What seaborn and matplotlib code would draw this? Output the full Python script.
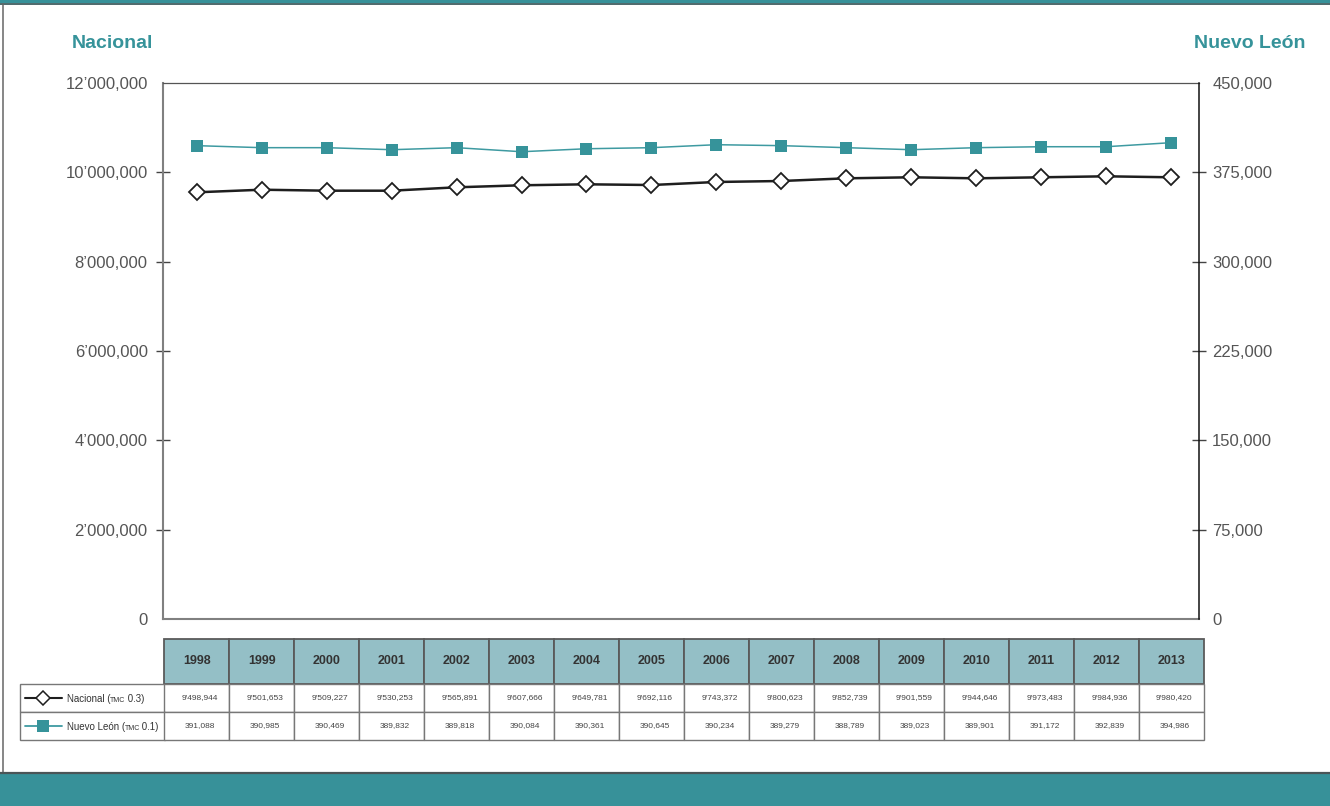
import matplotlib
matplotlib.use("Agg")
import matplotlib.pyplot as plt
import matplotlib.transforms as mtransforms
from matplotlib.patches import Rectangle
from matplotlib.lines import Line2D
from matplotlib import font_manager
import pandas as pd
import seaborn as sns

# --- data --------------------------------------------------------------------
years = [str(y) for y in range(1998, 2014)]

nacional_plot = [9553000, 9611000, 9589000, 9589000, 9665000, 9710000, 9732000, 9716000,
                 9784000, 9806000, 9866000, 9889000, 9866000, 9889000, 9911000, 9889000]
nuevo_leon_plot = [397400, 395700, 395700, 394000, 395700, 392300, 394800, 395700,
                   398200, 397400, 395700, 394000, 395700, 396500, 396500, 399900]

# values printed in the table under the chart
nacional_table = ["9'498,944", "9'501,653", "9'509,227", "9'530,253", "9'565,891", "9'607,666",
                  "9'649,781", "9'692,116", "9'743,372", "9'800,623", "9'852,739", "9'901,559",
                  "9'944,646", "9'973,483", "9'984,936", "9'980,420"]
nuevo_leon_table = ["391,088", "390,985", "390,469", "389,832", "389,818", "390,084",
                    "390,361", "390,645", "390,234", "389,279", "388,789", "389,023",
                    "389,901", "391,172", "392,839", "394,986"]

series_labels = [("Nacional (", "TMC", " 0.3)"), ("Nuevo León (", "TMC", " 0.1)")]

left_ticks = [0, 2e6, 4e6, 6e6, 8e6, 10e6, 12e6]
left_labels = ["0", "2’000,000", "4’000,000", "6’000,000", "8’000,000", "10’000,000", "12’000,000"]
right_ticks = [0, 75000, 150000, 225000, 300000, 375000, 450000]
right_labels = ["0", "75,000", "150,000", "225,000", "300,000", "375,000", "450,000"]

teal = "#36939a"
band = "#379199"
header_fill = "#94bfc6"

# --- style -------------------------------------------------------------------
sns.set_style("white")
names = {f.name for f in font_manager.fontManager.ttflist}
narrow = "Liberation Sans Narrow" if "Liberation Sans Narrow" in names else "Liberation Sans"
plt.rcParams["font.family"] = [narrow, "DejaVu Sans"]

W, H = 1330, 806
fig = plt.figure(figsize=(W / 100, H / 100), dpi=100)
px = lambda x: x / W
py = lambda y: 1 - y / H

ax = fig.add_axes([px(163), py(619), px(1199) - px(163), py(83) - py(619)])
ax2 = ax.twinx()

df_nac = pd.DataFrame({"pos": range(len(years)), "value": nacional_plot})
df_nl = pd.DataFrame({"pos": range(len(years)), "value": nuevo_leon_plot})

sns.lineplot(data=df_nac, x="pos", y="value", ax=ax, color="#1e1e1e", linewidth=1.8,
             marker="D", markersize=8.5, markerfacecolor="white",
             markeredgecolor="#1e1e1e", markeredgewidth=1.3)
sns.lineplot(data=df_nl, x="pos", y="value", ax=ax2, color="#3e9aa1", linewidth=1.1,
             marker="s", markersize=8.2, markerfacecolor=teal,
             markeredgecolor=teal, markeredgewidth=0)

ax.set_xlim(-0.52, 15.43)
ax.set_xticks([])
ax.set_xlabel("")
ax2.set_xlabel("")
ax.set_ylabel("")
ax2.set_ylabel("")

ax.set_ylim(0, 12e6)
ax.set_yticks(left_ticks)
ax.set_yticklabels(left_labels)
ax.tick_params(axis="y", direction="inout", length=10, width=1.0, color="#444",
               labelsize=12, labelcolor="#555", pad=6, left=True)
ax2.set_ylim(0, 450000)
ax2.set_yticks(right_ticks)
ax2.set_yticklabels(right_labels)
ax2.tick_params(axis="y", direction="inout", length=10, width=1.0, color="#444",
                labelsize=12, labelcolor="#555", pad=4.5, right=True)
for a in (ax, ax2):
    ticks = a.yaxis.get_major_ticks()
    for t in (ticks[0], ticks[-1]):
        t.tick1line.set_visible(False)
        t.tick2line.set_visible(False)

for side in ("left", "bottom"):
    ax.spines[side].set_color("#808080")
    ax.spines[side].set_linewidth(1.5)
ax.spines["top"].set_color("#555")
ax.spines["top"].set_linewidth(0.9)
ax.spines["right"].set_visible(False)
for side in ("left", "top", "bottom"):
    ax2.spines[side].set_visible(False)
ax2.spines["right"].set_color("#111")
ax2.spines["right"].set_linewidth(1.1)

fig.text(px(72), py(43), "Nacional", color=teal, fontsize=14, fontweight="bold",
         ha="left", va="center")
fig.text(px(1305), py(43), "Nuevo León", color=teal, fontsize=14, fontweight="bold",
         ha="right", va="center")

# --- table -------------------------------------------------------------------
blend = mtransforms.blended_transform_factory(ax.transData, fig.transFigure)
head_top, head_bot = py(639), py(684)
rows = [(py(684), py(712)), (py(712), py(740))]

for i, year in enumerate(years):
    fig.add_artist(Rectangle((i - 0.5, head_bot), 1, head_top - head_bot, transform=blend,
                             facecolor=header_fill, edgecolor="#5a5a5a", linewidth=1.3))
    fig.text(i, (head_top + head_bot) / 2, year, transform=blend, ha="center", va="center",
             fontsize=9, fontweight="bold", color="#333")

for (top, bot), values in zip(rows, [nacional_table, nuevo_leon_table]):
    fig.add_artist(Rectangle((px(20), bot), px(164.6) - px(20), top - bot,
                             transform=fig.transFigure, facecolor="white",
                             edgecolor="#777", linewidth=1.0))
    for i, v in enumerate(values):
        fig.add_artist(Rectangle((i - 0.5, bot), 1, top - bot, transform=blend,
                                 facecolor="white", edgecolor="#777", linewidth=1.0))
        fig.text(i + 0.05, (top + bot) / 2, v, transform=blend, ha="center", va="center",
                 fontsize=6, color="#444")

# legend keys inside the label cells
(n_top, n_bot), (l_top, l_bot) = rows
y_nac = (n_top + n_bot) / 2
y_nl = (l_top + l_bot) / 2
fig.add_artist(Line2D([px(25), px(62)], [y_nac, y_nac], transform=fig.transFigure,
                      color="#1e1e1e", linewidth=1.5))
fig.add_artist(Line2D([px(43)], [y_nac], transform=fig.transFigure, marker="D",
                      markersize=7.5, markerfacecolor="white", markeredgecolor="#1e1e1e",
                      markeredgewidth=1.1))
fig.add_artist(Line2D([px(25), px(62)], [y_nl, y_nl], transform=fig.transFigure,
                      color="#3e9aa1", linewidth=1.3))
fig.add_artist(Line2D([px(43)], [y_nl], transform=fig.transFigure, marker="s",
                      markersize=8.0, markerfacecolor=teal, markeredgewidth=0))

renderer = fig.canvas.get_renderer()
for (main, small, tail), yc in zip(series_labels, [y_nac, y_nl]):
    x = px(67)
    for txt, size in [(main, 7), (small, 5), (tail, 7)]:
        t = fig.text(x, yc - 3.5 / H, txt, fontsize=size, color="#333", ha="left",
                     va="baseline")
        x = t.get_window_extent(renderer).x1 / W - 0.5 / W

# --- page frame --------------------------------------------------------------
fig.add_artist(Rectangle((0, py(3)), 1, 3 / H, transform=fig.transFigure,
                         facecolor=band, edgecolor="none"))
fig.add_artist(Line2D([0, 1], [py(3.8), py(3.8)], transform=fig.transFigure,
                      color="#2f4f52", linewidth=1.2))
fig.add_artist(Line2D([px(2.5), px(2.5)], [py(3.8), py(772)], transform=fig.transFigure,
                      color="#666", linewidth=1.1))
fig.add_artist(Rectangle((0, 0), 1, py(773), transform=fig.transFigure,
                         facecolor=band, edgecolor="none"))
fig.add_artist(Line2D([0, 1], [py(772.5), py(772.5)], transform=fig.transFigure,
                      color="#4a5557", linewidth=1.6))

fig.savefig("out.png", dpi=100)
